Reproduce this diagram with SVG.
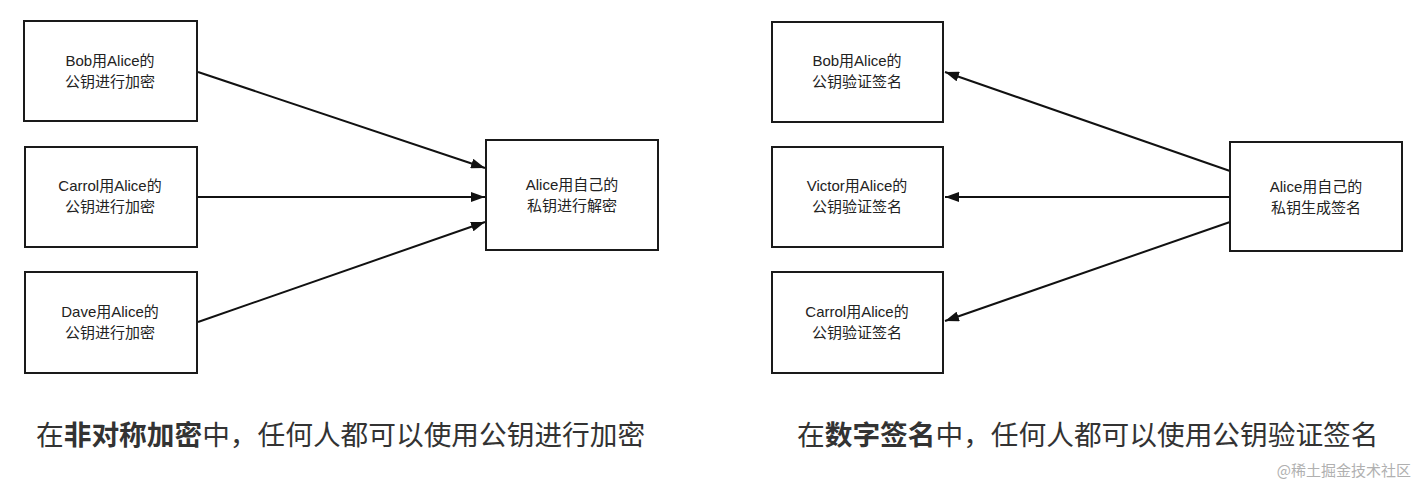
<svg xmlns="http://www.w3.org/2000/svg" width="1428" height="488" viewBox="0 0 1428 488">
<style>
.box{fill:#fff;stroke:#1a1a1a;stroke-width:2}
.t{font-family:"Liberation Sans","Noto Sans CJK SC",sans-serif;font-size:15px;fill:#222;text-anchor:middle}
.edge{stroke:#111;stroke-width:2;fill:none;marker-end:url(#ah)}
.cap{font-family:"Noto Sans CJK SC",sans-serif;font-size:27.7px;fill:#333}
.b{font-weight:bold}
.wm{font-family:"Noto Sans CJK SC",sans-serif;font-size:15px;fill:#b0b0b0;text-anchor:end}
</style>
<defs>
<marker id="ah" viewBox="0 0 14 10" refX="14" refY="5" markerWidth="14" markerHeight="10" markerUnits="userSpaceOnUse" orient="auto">
<path d="M0,0 L14,5 L0,10 z" fill="#111"/>
</marker>
</defs>
<rect width="1428" height="488" fill="#fff"/>
<g id="connectors">
<line class="edge" x1="198" y1="72" x2="485" y2="168"/>
<line class="edge" x1="198" y1="197" x2="485" y2="197"/>
<line class="edge" x1="198" y1="322" x2="485" y2="222"/>
<line class="edge" x1="1230" y1="171" x2="945" y2="72"/>
<line class="edge" x1="1230" y1="197" x2="945" y2="197"/>
<line class="edge" x1="1230" y1="222" x2="945" y2="321"/>
</g>
<g id="bob-enc"><rect class="box" x="24" y="21" width="173" height="100"/><text class="t" x="110" y="66">Bob用Alice的</text><text class="t" x="110" y="87">公钥进行加密</text></g>
<g id="carrol-enc"><rect class="box" x="25" y="147" width="172" height="100"/><text class="t" x="110" y="191">Carrol用Alice的</text><text class="t" x="110" y="212">公钥进行加密</text></g>
<g id="dave-enc"><rect class="box" x="25" y="272" width="172" height="101"/><text class="t" x="110" y="317">Dave用Alice的</text><text class="t" x="110" y="338">公钥进行加密</text></g>
<g id="alice-dec"><rect class="box" x="486" y="140" width="172" height="110"/><text class="t" x="572" y="190">Alice用自己的</text><text class="t" x="572" y="211">私钥进行解密</text></g>
<g id="bob-ver"><rect class="box" x="772" y="22" width="171" height="100"/><text class="t" x="857" y="66">Bob用Alice的</text><text class="t" x="857" y="87">公钥验证签名</text></g>
<g id="victor-ver"><rect class="box" x="772" y="147" width="171" height="100"/><text class="t" x="857" y="191">Victor用Alice的</text><text class="t" x="857" y="212">公钥验证签名</text></g>
<g id="carrol-ver"><rect class="box" x="772" y="272" width="171" height="101"/><text class="t" x="857" y="317">Carrol用Alice的</text><text class="t" x="857" y="338">公钥验证签名</text></g>
<g id="alice-sign"><rect class="box" x="1230" y="142" width="172" height="109"/><text class="t" x="1316" y="192">Alice用自己的</text><text class="t" x="1316" y="213">私钥生成签名</text></g>
<text class="cap" x="36" y="445">在<tspan class="b">非对称加密</tspan>中，任何人都可以使用公钥进行加密</text>
<text class="cap" x="797" y="445">在<tspan class="b">数字签名</tspan>中，任何人都可以使用公钥验证签名</text>
<text class="wm" x="1411" y="476">@稀土掘金技术社区</text>
</svg>
